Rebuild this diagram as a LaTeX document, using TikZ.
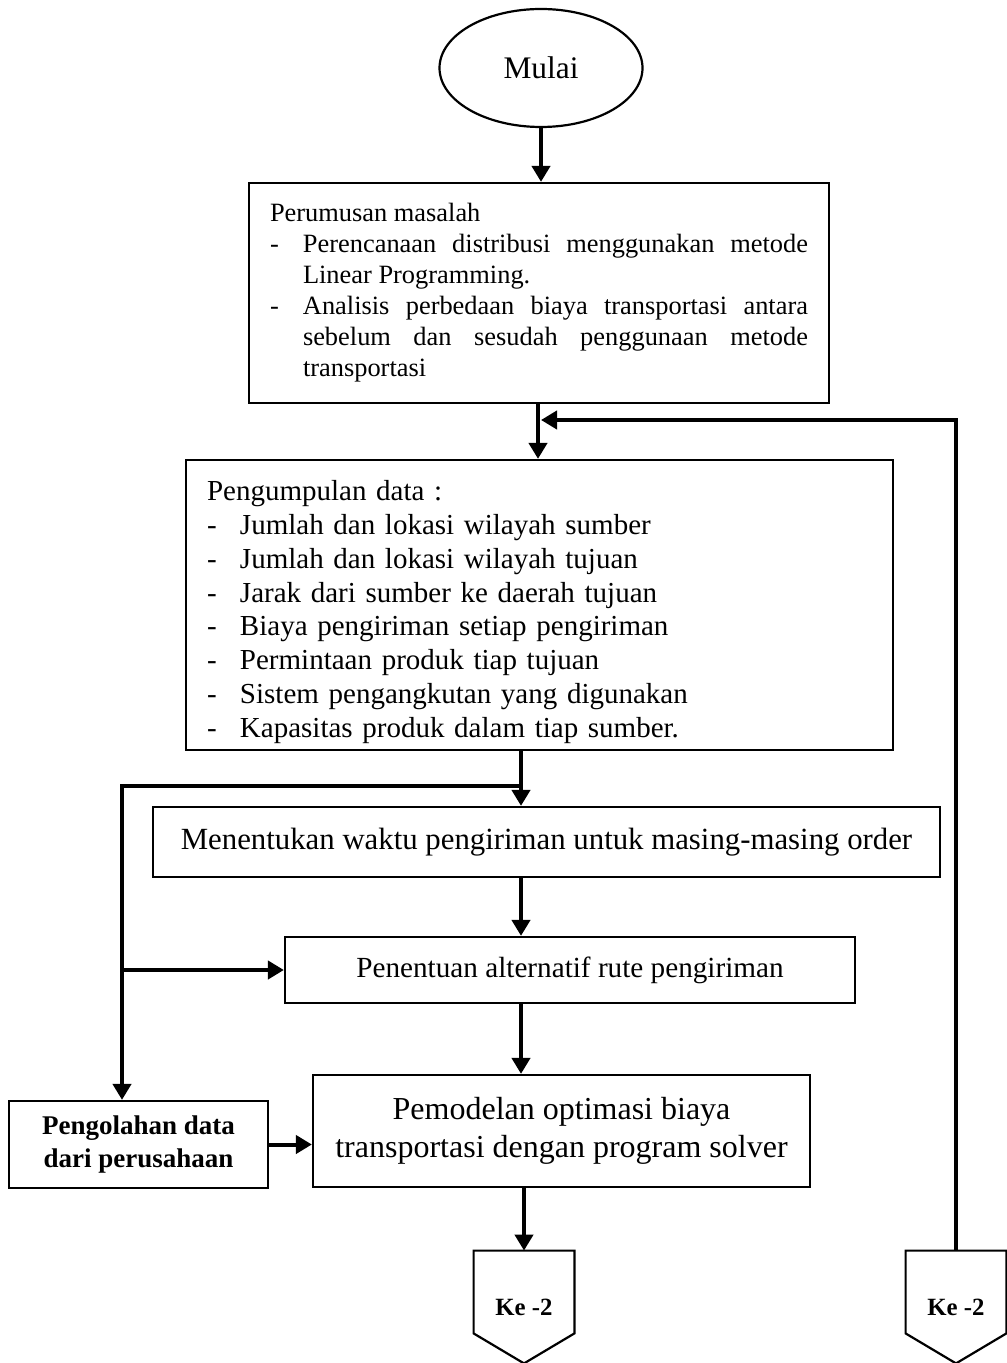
\documentclass[tikz,border=0pt]{standalone}
\usepackage{fontspec}
\setmainfont{Liberation Serif}
\usetikzlibrary{shapes,arrows.meta,positioning}

\newcommand{\dashline}[1]{\par\noindent\hangindent=16.5pt\hangafter=1\makebox[16.5pt][l]{-}#1}

\begin{document}
\begin{tikzpicture}[
    x=0.5pt, y=-0.5pt,
    box/.style={rectangle, draw, line width=1.1pt, inner sep=0pt, align=center},
    terminal/.style={ellipse, draw, line width=1.1pt, inner sep=0pt, minimum width=101.5pt, minimum height=59pt},
    offpage/.style={rectangle, inner sep=0pt, minimum width=50pt, minimum height=56pt, font=\bfseries\fontsize{12.4}{15}\selectfont},
    border/.style={line width=1.1pt},
    line/.style={line width=2pt},
    arrow/.style={line width=2pt, -{Triangle[length=8pt,width=9pt]}}
]
\useasboundingbox (0,0) rectangle (1006,1363);

% Start
\node[terminal, font=\fontsize{15.7}{18}\selectfont] (mulai) at (541,68) {Mulai};

% Problem formulation
\node[box, minimum width=290pt, minimum height=110pt, text width=269pt, align=justify, font=\fontsize{13.2}{15.5}\selectfont] (perumusan) at (539,293) {Perumusan masalah
\dashline{Perencanaan distribusi menggunakan metode\linebreak Linear Programming.}
\dashline{Analisis perbedaan biaya transportasi antara\linebreak sebelum dan sesudah penggunaan metode\linebreak transportasi}\par};

% Data collection
\node[box, minimum width=353.5pt, minimum height=145pt, text width=332.5pt, align=left, font=\fontsize{14.5}{16.9}\selectfont] (pengumpulan) at (539.5,605) {\rule{0pt}{17pt}Pengumpulan data :
\dashline{Jumlah dan lokasi wilayah sumber}
\dashline{Jumlah dan lokasi wilayah tujuan}
\dashline{Jarak dari sumber ke daerah tujuan}
\dashline{Biaya pengiriman setiap pengiriman}
\dashline{Permintaan produk tiap tujuan}
\dashline{Sistem pengangkutan yang digunakan}
\dashline{Kapasitas produk dalam tiap sumber.}\par};

% Processing steps
\node[box, minimum width=393.5pt, minimum height=35pt, font=\fontsize{15.4}{18}\selectfont] (menentukan) at (546.5,842) {Menentukan waktu pengiriman untuk masing-masing order};

\node[box, minimum width=285pt, minimum height=33pt, font=\fontsize{14.6}{17}\selectfont] (penentuan) at (570,970) {Penentuan alternatif rute pengiriman};

\node[box, minimum width=248.5pt, minimum height=56pt, font=\fontsize{16}{19}\selectfont] (pemodelan) at (561.5,1131) {Pemodelan optimasi biaya\\transportasi dengan program solver};

\node[box, minimum width=129.5pt, minimum height=43.5pt, font=\bfseries\fontsize{13.5}{16.5}\selectfont] (pengolahan) at (138.5,1144.5) {Pengolahan data\\dari perusahaan};

% Off-page connectors
\node[offpage] (ke2a) at (524,1307) {Ke -2};
\node[offpage] (ke2b) at (956,1307) {Ke -2};
\draw[border] (ke2a.north west) -- (ke2a.north east) -- ([yshift=15pt]ke2a.south east) -- (ke2a.south) -- ([yshift=15pt]ke2a.south west) -- cycle;
\draw[border] (ke2b.north west) -- (ke2b.north east) -- ([yshift=15pt]ke2b.south east) -- (ke2b.south) -- ([yshift=15pt]ke2b.south west) -- cycle;

% Junctions
\coordinate (fb) at (541,420);
\coordinate (split) at (521,786);
\coordinate (lcorner) at (122,786);

% Arrows
\draw[arrow] (mulai.south) -- (mulai.south |- perumusan.north);
\draw[arrow] (perumusan.south -| 538,0) -- (pengumpulan.north -| 538,0);
\draw[arrow] (ke2b.north) |- (fb);
\draw[arrow] (split |- pengumpulan.south) -- (split |- menentukan.north);
\draw[arrow] (split) -- (lcorner) -- (lcorner |- pengolahan.north);
\draw[arrow] (lcorner |- penentuan.west) -- (penentuan.west);
\draw[arrow] (split |- menentukan.south) -- (split |- penentuan.north);
\draw[arrow] (split |- penentuan.south) -- (split |- pemodelan.north);
\draw[arrow] (pengolahan.east) -- (pengolahan.east -| pemodelan.west);
\draw[arrow] (pemodelan.south -| ke2a.north) -- (ke2a.north);

\end{tikzpicture}
\end{document}
